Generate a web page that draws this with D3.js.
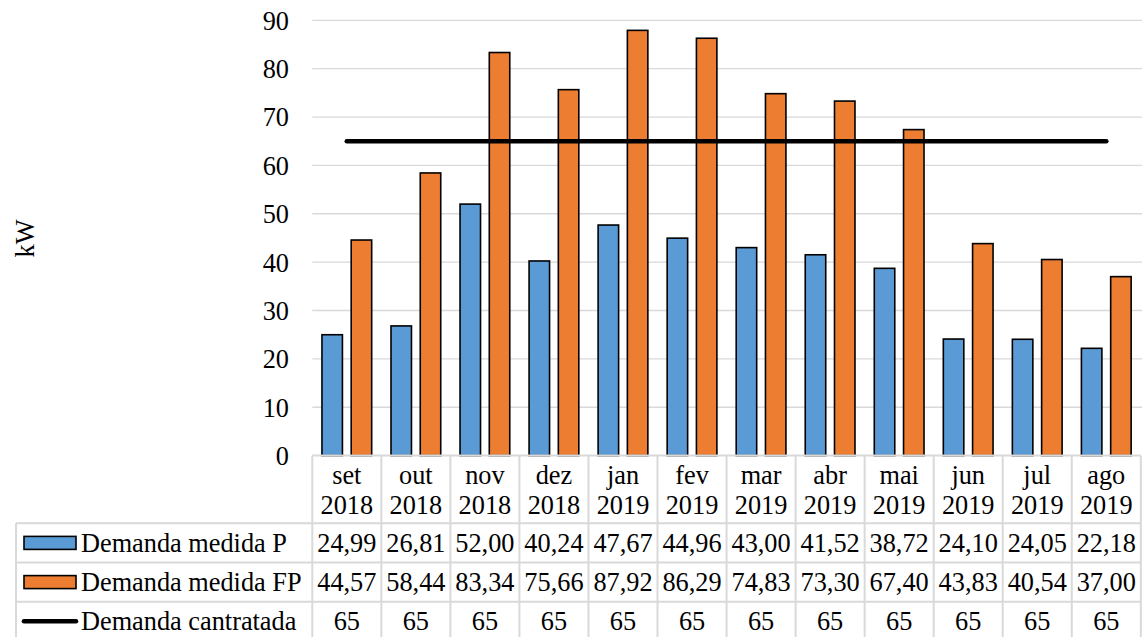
<!DOCTYPE html>
<html>
<head>
<meta charset="utf-8">
<script src="https://cdn.jsdelivr.net/npm/d3@7"></script>
<style>
  html, body { margin: 0; padding: 0; background: #fff; }
  svg { display: block; }
  text { font-family: "Liberation Serif", "Times New Roman", serif; fill: #000; }
</style>
</head>
<body>
<svg id="chart" width="1142" height="637"></svg>
<script>
// Monthly demand (kW): peak (P), off-peak (FP) and contracted demand
const months = ["set", "out", "nov", "dez", "jan", "fev", "mar", "abr", "mai", "jun", "jul", "ago"];
const years = ["2018", "2018", "2018", "2018", "2019", "2019", "2019", "2019", "2019", "2019", "2019", "2019"];
const demandaP = [24.99, 26.81, 52.00, 40.24, 47.67, 44.96, 43.00, 41.52, 38.72, 24.10, 24.05, 22.18];
const demandaFP = [44.57, 58.44, 83.34, 75.66, 87.92, 86.29, 74.83, 73.30, 67.40, 43.83, 40.54, 37.00];
const demandaContratada = [65, 65, 65, 65, 65, 65, 65, 65, 65, 65, 65, 65];
const seriesNames = ["Demanda medida P", "Demanda medida FP", "Demanda cantratada"];
const yTicks = [0, 10, 20, 30, 40, 50, 60, 70, 80, 90];
const yTitle = "kW";

const colors = { P: "#5b9bd5", FP: "#ed7d31", line: "#000000", grid: "#d9d9d9" };

const svg = d3.select("#chart");
const fontSize = 26.3;

const plot = { left: 312.3, right: 1140.8, top: 20.3, bottom: 455.6 };
const tableLeft = 16;
const headerBottom = 523.3;
const rowH = 39.2;

const keys = months.map((m, i) => i);

const x = d3.scaleBand().domain(keys).range([plot.left, plot.right]).padding(0);
const x1 = d3.scaleBand().domain(["P", "FP"]).range([0, x.bandwidth()])
  .paddingInner(0.3).paddingOuter(0.33);
const y = d3.scaleLinear().domain([0, 90]).range([plot.bottom, plot.top]);

// gridlines
svg.append("g")
  .selectAll("line")
  .data(yTicks.filter(t => t > 0))
  .join("line")
  .attr("x1", plot.left).attr("x2", 1142)
  .attr("y1", d => y(d)).attr("y2", d => y(d))
  .attr("stroke", colors.grid).attr("stroke-width", 1.3);

// y axis labels
const yAxis = d3.axisLeft(y).tickValues(yTicks).tickSize(0).tickPadding(0).tickFormat(d3.format("d"));
const gy = svg.append("g").attr("transform", `translate(289,0)`).call(yAxis);
gy.select(".domain").remove();
gy.selectAll("text")
  .attr("font-size", fontSize)
  .attr("font-family", "Liberation Serif")
  .attr("dy", "0.34em")
  .attr("fill", "#000");

// y title
svg.append("text")
  .attr("transform", "translate(34,238.5) rotate(-90)")
  .attr("text-anchor", "middle")
  .attr("font-size", fontSize)
  .text(yTitle);

// bars
const barData = [];
keys.forEach(i => {
  barData.push({ i, s: "P", v: demandaP[i] });
  barData.push({ i, s: "FP", v: demandaFP[i] });
});
svg.append("g")
  .selectAll("rect")
  .data(barData)
  .join("rect")
  .attr("x", d => x(d.i) + x1(d.s))
  .attr("width", x1.bandwidth())
  .attr("y", d => y(d.v))
  .attr("height", d => y(0) - y(d.v))
  .attr("fill", d => colors[d.s])
  .attr("stroke", "#000")
  .attr("stroke-width", 1.6);

// contracted demand line
const line = d3.line()
  .x((d, i) => x(i) + x.bandwidth() / 2)
  .y(d => y(d));
svg.append("path")
  .datum(demandaContratada)
  .attr("d", line)
  .attr("fill", "none")
  .attr("stroke", colors.line)
  .attr("stroke-width", 4.6)
  .attr("stroke-linecap", "round")
  .attr("stroke-linejoin", "round");

// data table
const locale = d3.formatLocale({ decimal: ",", thousands: ".", grouping: [3], currency: ["", ""] });
const f2 = locale.format(".2f");
const rows = [
  { name: seriesNames[0], values: demandaP, fmt: f2, kind: "P" },
  { name: seriesNames[1], values: demandaFP, fmt: f2, kind: "FP" },
  { name: seriesNames[2], values: demandaContratada, fmt: d3.format("d"), kind: "line" }
];
const table = svg.append("g");
const tableBottom = headerBottom + rowH * rows.length;

// horizontal rules
table.append("line")
  .attr("x1", plot.left).attr("x2", plot.right)
  .attr("y1", plot.bottom).attr("y2", plot.bottom)
  .attr("stroke", colors.grid).attr("stroke-width", 2);
d3.range(rows.length + 1).forEach(r => {
  const yy = headerBottom + r * rowH;
  table.append("line")
    .attr("x1", tableLeft).attr("x2", plot.right)
    .attr("y1", yy).attr("y2", yy)
    .attr("stroke", colors.grid).attr("stroke-width", 2);
});
// vertical rules
d3.range(keys.length + 1).forEach(c => {
  const xx = c < keys.length ? x(c) : plot.right;
  table.append("line")
    .attr("x1", xx).attr("x2", xx)
    .attr("y1", plot.bottom).attr("y2", tableBottom)
    .attr("stroke", colors.grid).attr("stroke-width", 2);
});
table.append("line")
  .attr("x1", tableLeft).attr("x2", tableLeft)
  .attr("y1", headerBottom).attr("y2", tableBottom)
  .attr("stroke", colors.grid).attr("stroke-width", 2);

// category header
keys.forEach(i => {
  const cx = x(i) + x.bandwidth() / 2;
  table.append("text").attr("x", cx).attr("y", 484).attr("text-anchor", "middle")
    .attr("font-size", fontSize).text(months[i]);
  table.append("text").attr("x", cx).attr("y", 514).attr("text-anchor", "middle")
    .attr("font-size", fontSize).text(years[i]);
});

// rows
rows.forEach((row, r) => {
  const cy = headerBottom + r * rowH + rowH / 2;
  if (row.kind === "line") {
    table.append("line")
      .attr("x1", 24).attr("x2", 76)
      .attr("y1", cy).attr("y2", cy)
      .attr("stroke", colors.line).attr("stroke-width", 4.6)
      .attr("stroke-linecap", "round");
  } else {
    table.append("rect")
      .attr("x", 24).attr("y", cy - 6.5)
      .attr("width", 52).attr("height", 13)
      .attr("fill", colors[row.kind])
      .attr("stroke", "#000").attr("stroke-width", 1.6);
  }
  table.append("text").attr("x", 81).attr("y", cy + 9)
    .attr("font-size", fontSize).text(row.name);
  row.values.forEach((v, i) => {
    table.append("text")
      .attr("x", x(i) + x.bandwidth() / 2).attr("y", cy + 9)
      .attr("text-anchor", "middle")
      .attr("font-size", fontSize)
      .text(row.fmt(v));
  });
});
</script>
</body>
</html>
